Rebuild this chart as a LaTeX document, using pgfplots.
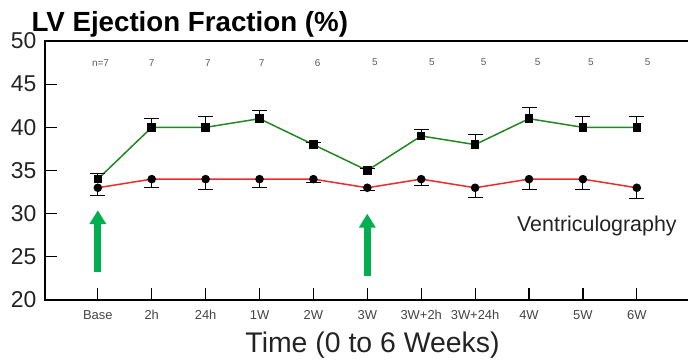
\documentclass[border=0pt]{standalone}
\usepackage{fontspec}
\setmainfont{Liberation Sans}
\usepackage{pgfplots}
\pgfplotsset{compat=1.18}
\usepackage{pgfplotstable}
\usetikzlibrary{arrows.meta,calc}
\definecolor{lgreen}{RGB}{34,135,34}
\definecolor{lred}{RGB}{232,45,45}
\definecolor{agreen}{RGB}{0,176,80}
\definecolor{txt}{RGB}{35,35,35}

\pgfplotstableread{
x y e
0 34 0.6
1 40 1.05
2 40 1.2
3 41 0.9
4 38 0.3
5 35 0.2
6 39 0.7
7 38 1.2
8 41 1.3
9 40 1.2
10 40 1.2
}\greendata

\pgfplotstableread{
x y e
0 33 0.95
1 34 0.95
2 34 1.2
3 34 0.95
4 34 0.4
5 33 0.3
6 34 0.7
7 33 1.1
8 34 1.25
9 34 1.25
10 33 1.2
}\reddata

\pgfplotstableread{
x y n
0.05 47.5 n=7
1.0 47.5 7
2.04 47.5 7
3.04 47.5 7
4.08 47.5 6
5.14 47.5 5
6.2 47.5 5
7.16 47.5 5
8.16 47.5 5
9.15 47.5 5
10.2 47.5 5
}\nlab

\begin{document}
\begin{tikzpicture}
\begin{axis}[
  scale only axis, width=643bp, height=259bp,
  xmin=-0.98, xmax=10.95, ymin=20, ymax=50,
  axis line style={draw=none},
  ytick={20,25,...,50},
  yticklabel style={font=\fontsize{23}{25}\selectfont, text=txt, xshift=-5bp},
  xtick={0,...,10},
  xticklabels={Base,2h,24h,1W,2W,3W,3W+2h,3W+24h,4W,5W,6W},
  xticklabel style={font=\fontsize{13}{15}\selectfont, text=txt!85, anchor=base, yshift=-19bp},
  tick align=inside, xtick pos=bottom, ytick pos=left,
  major tick length=12bp,
  tick style={black, line width=1.2bp},
  xlabel={Time (0 to 6 Weeks)},
  xlabel style={font=\fontsize{28.5}{31}\selectfont, text=txt, at={(rel axis cs:0.5,0)}, anchor=base, yshift=-52bp, xshift=6bp},
  clip=false,
  /pgf/number format/assume math mode=true,
]
\draw[line width=1.6bp, black] (rel axis cs:1,1) -- (rel axis cs:0,1) -- (rel axis cs:0,0) -- (rel axis cs:1,0);

\addplot[lred, line width=1.5bp, mark=*, mark size=3.5bp, mark options={black, fill=black, solid},
  error bars/.cd, y dir=minus, y explicit,
  error bar style={black, line width=1bp},
  error mark options={rotate=90, mark size=7.5bp, line width=1bp, black}]
  table[x=x, y=y, y error=e] {\reddata};

\addplot[lgreen, line width=1.5bp, mark=square*, mark size=3.5bp, mark options={black, fill=black, solid},
  error bars/.cd, y dir=plus, y explicit,
  error bar style={black, line width=1bp},
  error mark options={rotate=90, mark size=7.5bp, line width=1bp, black}]
  table[x=x, y=y, y error=e] {\greendata};

\addplot[draw=none, mark=none, nodes near coords, point meta=explicit symbolic,
  nodes near coords style={font=\fontsize{10}{12}\selectfont, text=txt!75, anchor=center}]
  table[x=x, y=y, meta=n] {\nlab};

\draw[agreen, line width=7bp, -{Triangle[width=16bp,length=14bp]}] (axis cs:0,23.3) -- (axis cs:0,30.4);
\draw[agreen, line width=7bp, -{Triangle[width=16bp,length=14bp]}] (axis cs:5,22.8) -- (axis cs:5,30.0);

\node[font=\fontsize{21.5}{24}\selectfont, text=txt, anchor=base] at (axis cs:9.26,27.9) {Ventriculography};
\end{axis}
\node[anchor=base west, font=\fontsize{27.8}{30}\selectfont\bfseries, text=black] at ($(current axis.north west)+(-17bp,9bp)$) {LV Ejection Fraction (\%)};
\pgfresetboundingbox
\path ($(current axis.south west)+(-45bp,-60bp)$) rectangle ($(current axis.north east)+(0bp,41bp)$);
\end{tikzpicture}
\end{document}
